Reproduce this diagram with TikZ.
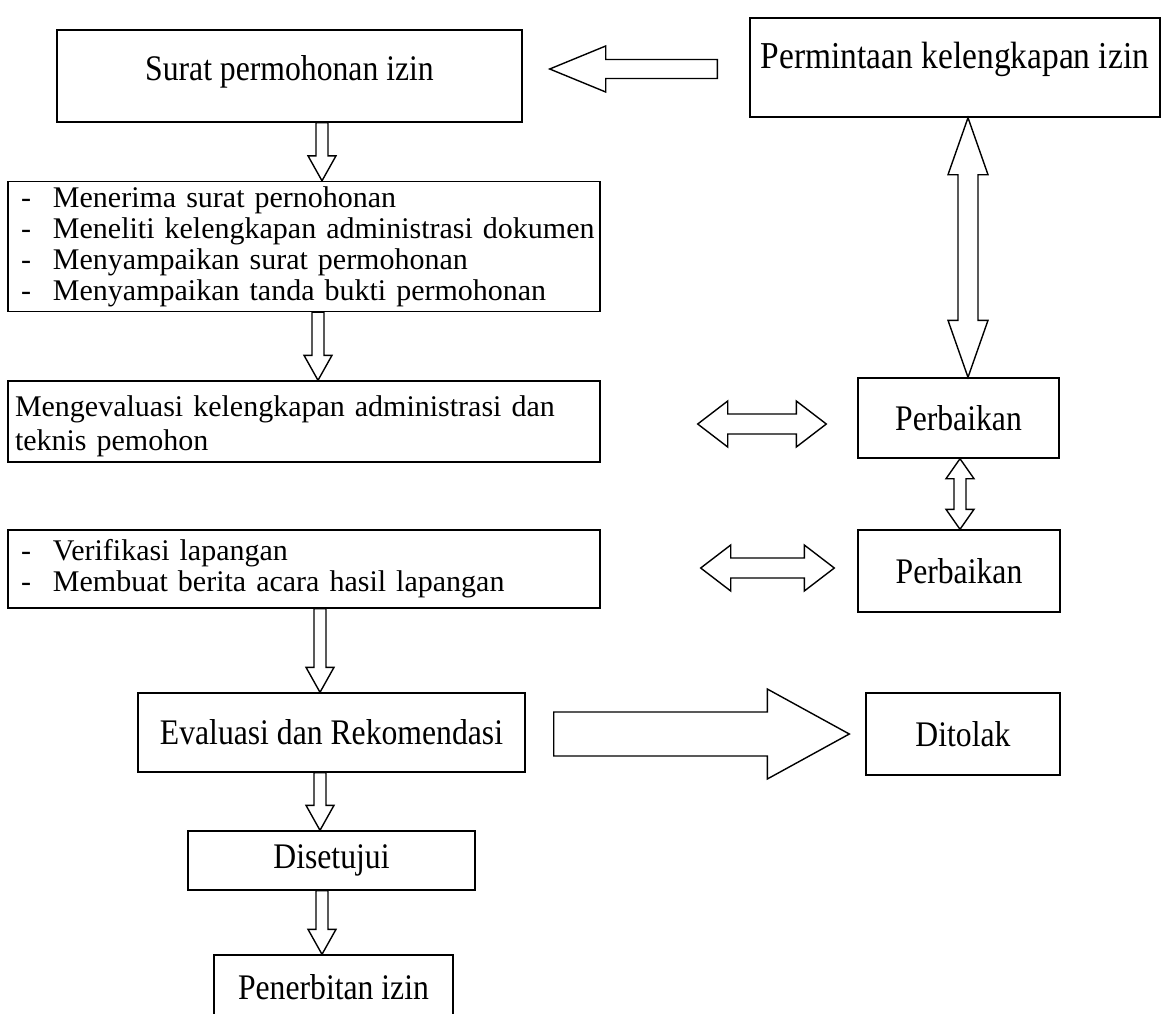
\documentclass[tikz,border=0pt]{standalone}
\usepackage{fontspec}
\setmainfont{Liberation Serif}
\newfontfamily\condfont{Liberation Serif}[FakeStretch=0.88]
\usetikzlibrary{calc}
\tikzset{
  box/.style={draw, line width=1.4pt, inner sep=0pt, anchor=center},
  lbl/.style={font=\fontsize{36}{37}\condfont},
  lst/.style={font=\fontsize{30}{31}\selectfont, align=left},
  blk/.style={draw, line width=1.4pt, fill=white, line join=miter},
}
\newcommand\li[1]{\makebox[32pt][l]{-}\mbox{#1}}
\newcommand\oneblock[5]{%
  \coordinate (sA) at (#1); \coordinate (sB) at (#2);
  \coordinate (sH) at ($(sB)!#5!(sA)$);
  \draw[blk] ($(sA)!#3!90:(sB)$) -- ($(sH)!#3!-90:(sA)$) -- ($(sH)!#4!-90:(sA)$) -- (sB)
    -- ($(sH)!#4!90:(sA)$) -- ($(sH)!#3!90:(sA)$) -- ($(sA)!#3!-90:(sB)$) -- cycle;}
\newcommand\dblblock[5]{%
  \coordinate (dA) at (#1); \coordinate (dB) at (#2);
  \coordinate (dHa) at ($(dA)!#5!(dB)$);
  \coordinate (dHb) at ($(dB)!#5!(dA)$);
  \draw[blk] (dA) -- ($(dHa)!#4!90:(dB)$) -- ($(dHa)!#3!90:(dB)$) -- ($(dHb)!#3!-90:(dA)$)
    -- ($(dHb)!#4!-90:(dA)$) -- (dB) -- ($(dHb)!#4!90:(dA)$) -- ($(dHb)!#3!90:(dA)$)
    -- ($(dHa)!#3!-90:(dB)$) -- ($(dHa)!#4!-90:(dB)$) -- cycle;}
\begin{document}
\begin{tikzpicture}[x=1pt,y=-1pt]
\useasboundingbox (0,0) rectangle (1162,1013);
\fill[white] (0,0) rectangle (1162,1013);
\clip (0,0) rectangle (1162,1013);
% boxes
\node[box, lbl, minimum width=465pt, minimum height=92pt] (b1) at (289.5,76) {\raisebox{16pt}{Surat permohonan izin}};
\node[box, font=\fontsize{38}{39}\condfont, minimum width=410pt, minimum height=99pt] (pm) at (955,67.5) {\raisebox{24pt}{Permintaan kelengkapan izin}};
\node[box, lst, minimum width=592pt, minimum height=130pt, text width=566pt] (b2) at (304,246.5)
  {\li{Menerima surat pernohonan}\\ \li{Meneliti kelengkapan administrasi dokumen}\\ \li{Menyampaikan surat permohonan}\\ \li{Menyampaikan tanda bukti permohonan}};
\node[box, lst, font=\fontsize{30}{34}\selectfont, minimum width=592pt, minimum height=81pt, text width=578pt] (b3) at (304,421.5)
  {\rule{0pt}{30pt}\mbox{Mengevaluasi kelengkapan administrasi dan}\\ teknis pemohon};
\node[box, lst, minimum width=592pt, minimum height=78pt, text width=566pt] (b4) at (304,569)
  {\li{Verifikasi lapangan}\\ \li{Membuat berita acara hasil lapangan}};
\node[box, lbl, minimum width=387pt, minimum height=79pt] (b5) at (331.5,732.5) {Evaluasi dan Rekomendasi};
\node[box, lbl, minimum width=287pt, minimum height=59pt] (b6) at (331.5,860.5) {Disetujui};
\node[box, lbl, minimum width=239pt, minimum height=65pt] (b7) at (333.5,987.5) {Penerbitan izin};
\node[box, lbl, minimum width=201pt, minimum height=80pt] (p1) at (958.5,418) {Perbaikan};
\node[box, lbl, minimum width=202pt, minimum height=82pt] (p2) at (959,571) {Perbaikan};
\node[box, lbl, minimum width=194pt, minimum height=82pt] (dt) at (963,734) {Ditolak};
% vertical arrows
\oneblock{$(b1.south)+(32.5,0)$}{$(b2.north)+(18,0)$}{6pt}{14pt}{25pt}
\oneblock{$(b2.south)+(14,0)$}{$(b3.north)+(14,0)$}{6pt}{14pt}{25pt}
\oneblock{$(b4.south)+(16,0)$}{$(b5.north)+(-11.5,0)$}{6pt}{14pt}{25pt}
\oneblock{$(b5.south)+(-11.5,0)$}{$(b6.north)+(-11.5,0)$}{6pt}{14pt}{25pt}
\oneblock{$(b6.south)+(-9.5,0)$}{$(b7.north)+(-11.5,0)$}{6pt}{14pt}{25pt}
% horizontal arrows
\oneblock{$(pm.west)+(-32,1.5)$}{$(b1.east)+(27,-7)$}{9.5pt}{23pt}{56pt}
\oneblock{$(b5.east)+(28,1.5)$}{$(dt.west)+(-16,0)$}{22pt}{45pt}{82pt}
% double arrows
\dblblock{$(pm.south)+(13,0)$}{$(p1.north)+(9.5,0)$}{10pt}{20pt}{57pt}
\dblblock{$(p1.south)+(1.5,0)$}{$(p2.north)+(1,0)$}{6pt}{14pt}{20pt}
\dblblock{$(b3.east)+(97,2.5)$}{$(p1.west)+(-31,6)$}{10pt}{23pt}{30pt}
\dblblock{$(b4.east)+(100,-1)$}{$(p2.west)+(-23,-3)$}{10pt}{23pt}{30pt}
\end{tikzpicture}
\end{document}
